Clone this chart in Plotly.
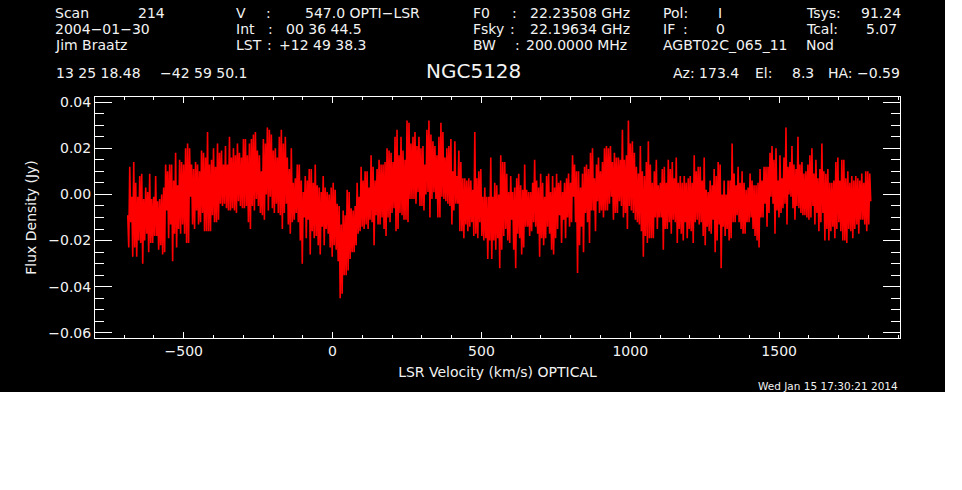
import plotly.graph_objects as go

# spectrum envelope, one upper/lower pair per 2 px column (mJy)
flux_hi = [
    -9, 12, -1, 14, 5, -1, 8, 9, -2, 3, 1, 9, -2, -1, 8, -3, -2, 0, 3, 13,
    10, 13, 13, 6, 18, 4, 15, 14, 13, 20, 22, 20, 13, 11, 14, 13, 10, 19, 18, 16,
    27, 13, 15, 20, 12, 22, 18, 19, 13, 21, 13, 25, 16, 20, 17, 22, 18, 16, 24, 24,
    17, 22, 24, 26, 27, 19, 17, 10, 24, 22, 29, 28, 26, 19, 20, 16, 25, 28, 22, 25,
    16, 11, 20, 5, 7, 13, 13, 6, 1, 8, 6, 11, 11, 5, 13, 4, 3, 1, 8, 3,
    1, 0, 3, 5, 2, -4, -5, -13, -7, -9, 2, 1, -6, -7, -5, 5, -1, 12, 6, 10,
    10, 3, 17, 12, 6, 11, 15, 13, 13, 14, 20, 19, 18, 14, 25, 28, 17, 25, 19, 15,
    32, 31, 22, 25, 27, 21, 25, 20, 21, 13, 28, 32, 26, 23, 21, 17, 25, 31, 27, 16,
    20, 21, 24, 10, 23, 8, 19, 14, 7, 7, 6, 7, 6, 2, 27, 7, 10, 11, -1, 3,
    -1, -1, 16, -1, 5, 4, 0, 17, 14, 14, 9, 1, 8, 1, 3, 7, 9, 4, 2, 13,
    2, 1, 1, 5, 15, 6, 3, 9, 5, -1, 8, 9, 1, 8, 3, 9, 5, 6, 1, 5,
    7, 9, 5, 17, 13, 10, 10, 3, 9, 12, 13, 11, 18, 20, 7, 13, 16, 10, 14, 20,
    21, 20, 21, 14, 18, 16, 16, 15, 28, 15, 17, 32, 22, 23, 18, 12, 9, 21, 10, 8,
    14, 23, 13, 5, 10, 15, 4, 5, 11, 12, 5, 15, 11, 14, 7, 16, 5, 8, 5, 8,
    5, 7, 8, 5, 17, 10, 12, 12, 6, 16, 2, 1, 6, 4, 11, 8, 14, 13, 0, 6,
    0, 6, 6, 22, 9, 4, 12, 5, 10, 5, 2, 3, 9, 6, 4, 4, 5, 11, 6, 12,
    12, 12, 18, 21, 15, 20, 6, 17, 7, 16, 29, 12, 14, 21, 13, 11, 25, 13, 14, 9,
    10, 13, 17, 20, 9, 15, 7, 11, 22, 10, 9, 11, 5, 5, 6, 14, 16, 6, 15, 15,
    7, 10, 5, 8, 6, 8, 7, 6, 9, 5, 10, 10, 9,
]
flux_lo = [
    -23, -12, -27, -23, -27, -20, -21, -30, -20, -17, -25, -21, -21, -18, -18, -24, -22, -26, -25, -7,
    -19, -13, -29, -17, -23, -15, -17, -13, -17, -21, -21, -1, -13, -15, -7, -13, -12, -8, -16, -16,
    -16, -16, -9, -12, -12, -11, -4, -5, -4, -6, -7, -7, -6, -7, -8, -3, -5, -6, -6, -5,
    -12, -15, -5, -7, -2, -5, -8, -9, -11, 0, -7, -1, -6, -8, -4, -8, -9, -15, -8, -4,
    -13, -17, -12, -11, -8, -12, -20, -30, -10, -19, -11, -26, -16, -19, -18, -22, -26, -14, -22, -15,
    -17, -23, -27, -22, -24, -29, -45, -43, -35, -35, -33, -28, -25, -25, -22, -17, -16, -14, -15, -13,
    -15, -11, -12, -22, -9, -13, -13, -10, -15, -18, -10, -12, -8, -6, -16, -15, -8, -9, -11, -11,
    -12, -2, -2, -2, -4, 1, -5, -5, -7, 0, 1, -10, -2, 1, -2, -10, -10, -1, -2, -3,
    -4, -5, -13, -7, -4, -4, -16, -16, -19, -13, -16, -14, -12, -18, -17, -19, -12, -18, -20, -19,
    -28, -20, -28, -20, -24, -19, -32, -24, -18, -15, -20, -21, -11, -24, -32, -17, -19, -26, -23, -14,
    -14, -18, -16, -12, -14, -17, -27, -19, -22, -19, -14, -17, -24, -26, -19, -15, -9, -21, -11, -19,
    -10, -14, -12, -1, -12, -34, -22, -14, -25, -8, -12, -21, -7, -7, -16, -3, -8, -7, -10, -7,
    -7, -4, -1, -11, -8, -8, -3, -5, -10, -8, -15, -5, -7, -8, -11, -12, -13, -16, -27, -18,
    -21, -19, -19, -19, -10, -15, -10, -10, -24, -15, -15, -12, -17, -11, -12, -21, -15, -17, -20, -12,
    -19, -15, -16, -21, -12, -11, -13, -12, -18, -22, -14, -16, -17, -11, -25, -20, -13, -32, -14, -18,
    -15, -20, -19, -12, -12, -9, -12, -15, -17, -17, -12, -12, -10, -15, -18, -20, -23, -10, -10, -4,
    -14, -8, -1, -4, -17, -7, -10, -8, -6, -4, -13, 0, -1, -6, -11, -5, -6, -8, -9, -9,
    -10, -11, -10, -5, -13, -8, -16, -12, -8, -20, -15, -20, -16, -14, -19, -15, -12, -16, -20, -20,
    -21, -15, -16, -19, -15, -13, -17, -11, -11, -13, -16, -13, -3,
]
velocity_start = -688  # km/s
velocity_step = 3.35   # km/s per sample

x_ticks_major = 500
x_ticks_minor = 100
y_ticks_major = 0.02
y_ticks_minor = 0.005

# pixel box of the plot inside the black image
W, H = 945, 392
ML, MR, MT, MB = 95, 45, 97, 54

# header text: x px, y px, text, font size
header = [
    (55, 13, "Scan", 14), (138, 13, "214", 14),
    (55, 29, "2004−01−30", 14), (55, 45, "Jim Braatz", 14),
    (236, 13, "V", 14), (266, 13, ":", 14), (305, 13, "547.0 OPTI−LSR", 14),
    (236, 29, "Int", 14), (268, 29, ":", 14), (286, 29, "00 36 44.5", 14),
    (236, 45, "LST", 14), (267, 45, ":", 14), (279, 45, "+12 49 38.3", 14),
    (473, 13, "F0", 14), (512, 13, ":", 14), (530, 13, "22.23508 GHz", 14),
    (473, 29, "Fsky", 14), (510, 29, ":", 14), (530, 29, "22.19634 GHz", 14),
    (473, 45, "BW", 14), (515, 45, ":", 14), (526, 45, "200.0000 MHz", 14),
    (663, 13, "Pol:", 14), (718, 13, "I", 14),
    (663, 29, "IF", 14), (683, 29, ":", 14), (716, 29, "0", 14),
    (663, 45, "AGBT02C_065_11", 14), (806, 45, "Nod", 14),
    (806, 13, "Tsys:", 14), (861, 13, "91.24", 14),
    (806, 29, "Tcal:", 14), (866, 29, "5.07", 14),
    (56, 73, "13 25 18.48", 14), (160, 73, "−42 59 50.1", 14),
    (426, 71, "NGC5128", 20),
    (673, 73, "Az: 173.4", 14), (755, 73, "El:", 14), (792, 73, "8.3", 14), (828, 73, "HA: −0.59", 14),
    (758, 386, "Wed Jan 15 17:30:21 2014", 10.5),
]

# zigzag between upper and lower envelope, converted to Jy
flux = []
for hi, lo in zip(flux_hi, flux_lo):
    flux += [hi / 1000, lo / 1000]

fig = go.Figure()
fig.add_trace(go.Scatter(
    y=flux, x0=velocity_start, dx=velocity_step, mode="lines",
    line=dict(color="#ff0000", width=1.6), showlegend=False,
))

font = "DejaVu Sans"
pw = W - ML - MR
ph = H - MT - MB
for px, py, text, size in header:
    fig.add_annotation(
        x=(px - ML) / pw, y=1 - (py - MT) / ph, xref="paper", yref="paper",
        text=text, showarrow=False, xanchor="left", yanchor="middle",
        xshift=-2.5, font=dict(family=font, size=size, color="#f2f2f2"),
    )

fig.update_xaxes(
    range=[-798, 1906], dtick=x_ticks_major, tick0=0, showgrid=False, zeroline=False,
    showline=True, linecolor="white", linewidth=1, mirror="allticks",
    ticks="inside", ticklen=6, tickcolor="white", tickwidth=1,
    minor=dict(dtick=x_ticks_minor, tick0=0, ticks="inside", ticklen=3, tickcolor="white", tickwidth=1, showgrid=False),
    title=dict(text="LSR Velocity (km/s) OPTICAL", standoff=9, font=dict(size=14, color="#f2f2f2")),
    tickfont=dict(size=14, color="#f2f2f2"),
)
fig.update_yaxes(
    range=[-0.0622, 0.0422], dtick=y_ticks_major, tick0=0, tickformat=".2f", showgrid=False, zeroline=False,
    showline=True, linecolor="white", linewidth=1, mirror="allticks",
    ticks="inside", ticklen=17, tickcolor="white", tickwidth=1,
    minor=dict(dtick=y_ticks_minor, tick0=0, ticks="inside", ticklen=9, tickcolor="white", tickwidth=1, showgrid=False),
    title=dict(text="Flux Density (Jy)", standoff=8, font=dict(size=14, color="#f2f2f2")),
    tickfont=dict(size=14, color="#f2f2f2"),
)
fig.update_layout(
    width=W, height=H, margin=dict(l=ML, r=MR, t=MT, b=MB, pad=0),
    paper_bgcolor="black", plot_bgcolor="black",
    font=dict(family=font, color="white"),
)
fig.write_html("out.html", config=dict(displayModeBar=False), post_script="document.body.style.margin='0';")
